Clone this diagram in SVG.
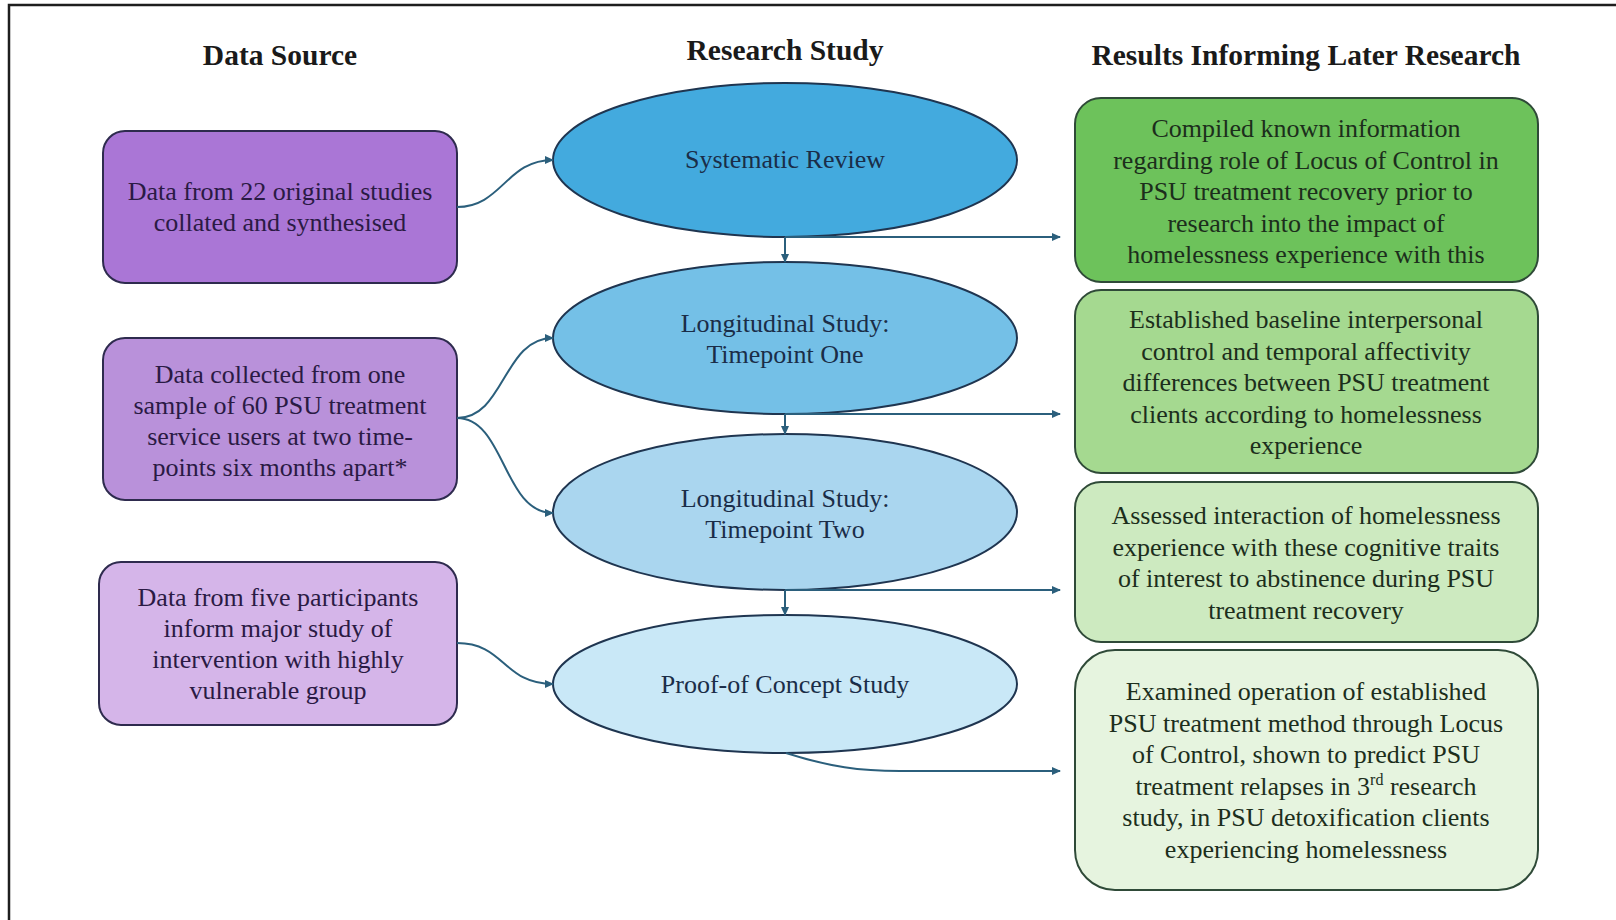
<svg xmlns="http://www.w3.org/2000/svg" width="1616" height="920" viewBox="0 0 1616 920">
<defs>
<marker id="ah" markerUnits="userSpaceOnUse" markerWidth="9" markerHeight="8" refX="8" refY="4" orient="auto">
<path d="M0,0 L9,4 L0,8 z" fill="#2b5f7c"/>
</marker>
<style>
.hdr{font-family:"Liberation Serif","Times New Roman",serif;font-weight:bold;font-size:29.5px;fill:#1a1a1a;text-anchor:middle}
.t{font-family:"Liberation Serif","Times New Roman",serif;font-size:26px;text-anchor:middle}
.lt{fill:#2a1a44}
.et{fill:#1a2d48}
.rt{fill:#1c2e1c}
.lbox{stroke:#2e2b4e;stroke-width:2}
.ell{stroke:#1f3550;stroke-width:2}
.rbox{stroke:#2f4a38;stroke-width:2}
.con{fill:none;stroke:#2b5f7c;stroke-width:2;marker-end:url(#ah)}
</style>
</defs>
<rect width="1616" height="920" fill="#ffffff"/>
<rect x="9" y="5" width="1700" height="1000" fill="none" stroke="#1e1e1e" stroke-width="2.5"/>

<g id="headers">
<text class="hdr" x="280" y="65">Data Source</text>
<text class="hdr" x="785" y="60">Research Study</text>
<text class="hdr" x="1306" y="65">Results Informing Later Research</text>
</g>

<g id="src1">
<rect class="lbox" x="103" y="131" width="354" height="152" rx="22" fill="#aa76d6"/>
<text class="t lt" x="280" y="200">Data from 22 original studies</text>
<text class="t lt" x="280" y="231">collated and synthesised</text>
</g>
<g id="src2">
<rect class="lbox" x="103" y="338" width="354" height="162" rx="22" fill="#b991da"/>
<text class="t lt" x="280" y="383">Data collected from one</text>
<text class="t lt" x="280" y="414">sample of 60 PSU treatment</text>
<text class="t lt" x="280" y="445">service users at two time-</text>
<text class="t lt" x="280" y="476">points six months apart*</text>
</g>
<g id="src3">
<rect class="lbox" x="99" y="562" width="358" height="163" rx="22" fill="#d5b5e9"/>
<text class="t lt" x="278" y="606">Data from five participants</text>
<text class="t lt" x="278" y="637">inform major study of</text>
<text class="t lt" x="278" y="668">intervention with highly</text>
<text class="t lt" x="278" y="699">vulnerable group</text>
</g>

<g id="study1">
<ellipse class="ell" cx="785" cy="160" rx="232" ry="77" fill="#43aade"/>
<text class="t et" x="785" y="168">Systematic Review</text>
</g>
<g id="study2">
<ellipse class="ell" cx="785" cy="338" rx="232" ry="76" fill="#74c0e7"/>
<text class="t et" x="785" y="332">Longitudinal Study:</text>
<text class="t et" x="785" y="363">Timepoint One</text>
</g>
<g id="study3">
<ellipse class="ell" cx="785" cy="512" rx="232" ry="78" fill="#aad6ef"/>
<text class="t et" x="785" y="507">Longitudinal Study:</text>
<text class="t et" x="785" y="538">Timepoint Two</text>
</g>
<g id="study4">
<ellipse class="ell" cx="785" cy="684" rx="232" ry="69" fill="#c9e8f7"/>
<text class="t et" x="785" y="693">Proof-of Concept Study</text>
</g>

<g id="res1">
<rect class="rbox" x="1075" y="98" width="463" height="184" rx="26" fill="#6dc25b"/>
<text class="t rt" x="1306" y="137">Compiled known information</text>
<text class="t rt" x="1306" y="168.5">regarding role of Locus of Control in</text>
<text class="t rt" x="1306" y="200">PSU treatment recovery prior to</text>
<text class="t rt" x="1306" y="231.5">research into the impact of</text>
<text class="t rt" x="1306" y="263">homelessness experience with this</text>
</g>
<g id="res2">
<rect class="rbox" x="1075" y="290" width="463" height="183" rx="26" fill="#a5d990"/>
<text class="t rt" x="1306" y="328">Established baseline interpersonal</text>
<text class="t rt" x="1306" y="359.5">control and temporal affectivity</text>
<text class="t rt" x="1306" y="391">differences between PSU treatment</text>
<text class="t rt" x="1306" y="422.5">clients according to homelessness</text>
<text class="t rt" x="1306" y="454">experience</text>
</g>
<g id="res3">
<rect class="rbox" x="1075" y="482" width="463" height="160" rx="26" fill="#cdeac0"/>
<text class="t rt" x="1306" y="524">Assessed interaction of homelessness</text>
<text class="t rt" x="1306" y="555.5">experience with these cognitive traits</text>
<text class="t rt" x="1306" y="587">of interest to abstinence during PSU</text>
<text class="t rt" x="1306" y="618.5">treatment recovery</text>
</g>
<g id="res4">
<rect class="rbox" x="1075" y="650" width="463" height="240" rx="40" fill="#e6f4df"/>
<text class="t rt" x="1306" y="700">Examined operation of established</text>
<text class="t rt" x="1306" y="731.5">PSU treatment method through Locus</text>
<text class="t rt" x="1306" y="763">of Control, shown to predict PSU</text>
<text class="t rt" x="1306" y="794.5">treatment relapses in 3<tspan font-size="16" dy="-10">rd</tspan><tspan dy="10"> research</tspan></text>
<text class="t rt" x="1306" y="826">study, in PSU detoxification clients</text>
<text class="t rt" x="1306" y="857.5">experiencing homelessness</text>
</g>

<g id="connectors">
<path class="con" d="M457,207 C502,207 506,160 553,160"/>
<path class="con" d="M457,418 C505,418 503,338 553,338"/>
<path class="con" d="M457,418 C505,418 503,513 553,513"/>
<path class="con" d="M457,643 C505,643 503,684 553,684"/>
<path class="con" d="M785,237 V262"/>
<path class="con" d="M785,414 V434"/>
<path class="con" d="M785,590 V615"/>
<path class="con" d="M785,237 H1060"/>
<path class="con" d="M785,414 H1060"/>
<path class="con" d="M785,590 H1060"/>
<path class="con" d="M786,753 C830,767 860,771 900,771 L1060,771"/>
</g>
</svg>
